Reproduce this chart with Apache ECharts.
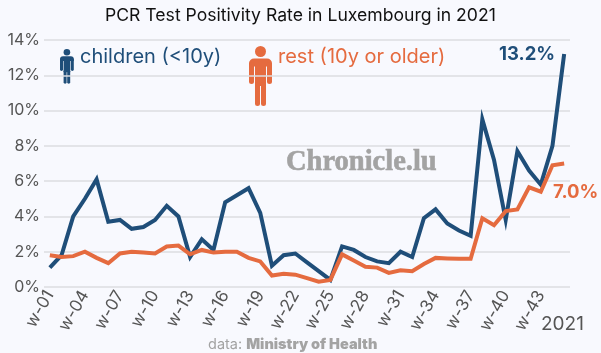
<!DOCTYPE html>
<html>
<head>
<meta charset="utf-8">
<style>html,body{margin:0;padding:0;background:#f8f9fe}#main{width:601px;height:353px}</style>
<script src="https://cdn.jsdelivr.net/npm/echarts@6/dist/echarts.min.js"></script>
</head>
<body>
<div id="main"></div>
<script>
var weeks = [];
for (var w = 1; w <= 45; w++) { weeks.push('w-' + (w < 10 ? '0' + w : w)); }
var children = [1.1,1.8,4.0,5.0,6.1,3.7,3.8,3.3,3.4,3.8,4.6,4.0,1.7,2.7,2.1,4.8,5.2,5.6,4.2,1.2,1.8,1.9,1.4,0.9,0.4,2.3,2.1,1.7,1.45,1.35,2.0,1.7,3.9,4.4,3.6,3.2,2.9,9.5,7.2,3.8,7.7,6.6,5.8,8.0,13.2];
var rest = [1.8,1.7,1.75,2.0,1.65,1.35,1.9,2.0,1.95,1.9,2.3,2.35,1.85,2.1,1.95,2.0,2.0,1.65,1.45,0.65,0.75,0.7,0.5,0.3,0.4,1.85,1.5,1.15,1.1,0.8,0.95,0.9,1.3,1.65,1.62,1.6,1.6,3.9,3.5,4.3,4.4,5.65,5.4,6.9,7.0];
var blue = '#1f4e79', orange = '#e56b3f', font = 'Inter';

// person icon from circle + rounded rects, sizes in a 23x60 box
function person(x, y, sx, sy, color) {
    function rect(rx, ry, rw, rh, r) {
        return { type: 'rect', shape: { x: rx, y: ry, width: rw, height: rh, r: r }, style: { fill: color } };
    }
    return {
        type: 'group', x: x, y: y, scaleX: sx, scaleY: sy,
        children: [
            { type: 'circle', shape: { cx: 11.5, cy: 5.5, r: 5.5 }, style: { fill: color } },
            rect(0, 12.5, 23, 8, [5, 5, 0, 0]),
            rect(0, 16, 5, 22, 2.5),
            rect(18, 16, 5, 22, 2.5),
            rect(6, 14, 11, 26, 0),
            rect(6, 36, 5, 24, 2.5),
            rect(12, 36, 5, 24, 2.5)
        ]
    };
}

var myChart = echarts.init(document.getElementById('main'));
myChart.setOption({
    backgroundColor: '#f8f9fe',
    animation: false,
    textStyle: { fontFamily: font },
    grid: { left: 44, right: 31, top: 40, bottom: 66 },
    xAxis: {
        type: 'category',
        data: weeks,
        boundaryGap: ['1%', '1%'],
        axisLine: { show: false },
        axisTick: { show: false },
        splitLine: { show: false },
        axisLabel: {
            interval: 2, rotate: 60, color: '#555', fontSize: 17, margin: 5, fontFamily: font
        }
    },
    yAxis: {
        type: 'value',
        min: 0, max: 14, interval: 2,
        axisLine: { show: false },
        axisTick: { show: false },
        splitLine: { lineStyle: { color: '#dcdde0', width: 1.5 } },
        axisLabel: { formatter: '{value}%', color: '#555', fontSize: 16, margin: 4, fontFamily: font }
    },
    series: [
        { name: 'children', type: 'line', data: children, symbol: 'none', z: 2,
          lineStyle: { color: blue, width: 4, join: 'miter' } },
        { name: 'rest', type: 'line', data: rest, symbol: 'none', z: 3,
          lineStyle: { color: orange, width: 4, join: 'miter' } }
    ],
    graphic: [
        { type: 'text', x: 105, y: 7, style: { text: 'PCR Test Positivity Rate in Luxembourg in 2021', fill: '#111', font: '17.6px Inter' } },
        person(60, 49, 0.6, 0.58, blue),
        { type: 'text', x: 80, y: 47, style: { text: 'children (<10y)', fill: blue, font: '20px Inter' } },
        person(249, 46, 1, 1, orange),
        { type: 'text', x: 278, y: 47, style: { text: 'rest (10y or older)', fill: orange, font: '20px Inter' } },
        { type: 'text', x: 499, y: 45, style: { text: '13.2%', fill: blue, font: 'bold 18.500px Inter' } },
        { type: 'text', x: 553, y: 183, style: { text: '7.0%', fill: orange, font: 'bold 18.500px Inter' } },
        { type: 'text', x: 286, y: 148, style: { text: 'Chronicle.lu', fill: '#a3a3a3', stroke: '#a3a3a3', lineWidth: 0.6, font: 'bold 28.500px "Liberation Serif"' } },
        { type: 'text', x: 541, y: 315, style: { text: '2021', fill: '#555', font: '19px Inter' } },
        { type: 'text', x: 208, y: 337, style: { rich: { a: { fill: '#a3a3a3', font: '14.500px Inter' }, b: { fill: '#a3a3a3', font: '900 14.500px Inter' } }, text: '{a|data: }{b|Ministry of Health}' } }
    ]
});
</script>
</body>
</html>
